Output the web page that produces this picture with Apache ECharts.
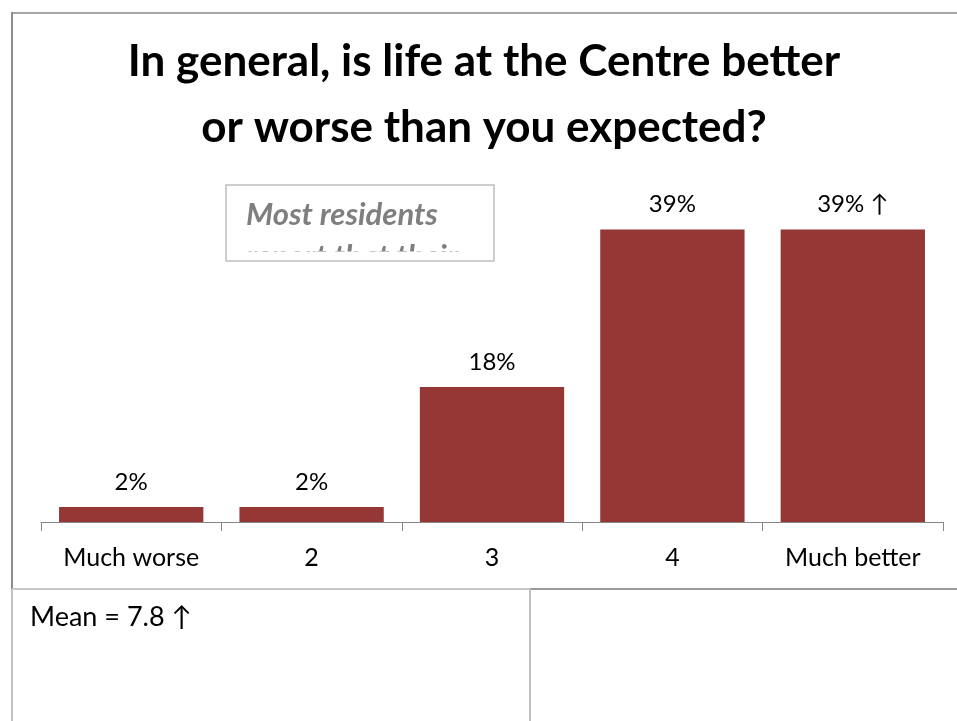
<!DOCTYPE html>
<html>
<head>
<meta charset="utf-8">
<script src="https://cdn.jsdelivr.net/npm/echarts@6/dist/echarts.min.js"></script>
<style>
  html, body { margin: 0; padding: 0; background: #fff; }
  #chart { width: 957px; height: 721px; }
</style>
</head>
<body>
<div id="chart"></div>
<script>
// Survey answers: share of residents per rating
const categories = ['Much worse', '2', '3', '4', 'Much better'];
const shares = [2, 2, 18, 39, 39];
const valueLabels = ['2%', '2%', '18%', '39%', '39% ↑'];
const titleLines = ['In general, is life at the Centre better', 'or worse than you expected?'];
const boxLines = ['Most residents', 'report that their'];
const meanNote = 'Mean = 7.8 ↑';

const FONT = 'Lato, "Noto Sans", sans-serif';
const BAR_COLOR = '#953735';

const chart = echarts.init(document.getElementById('chart'), null, { renderer: 'canvas' });

function line(x1, y1, x2, y2, color, width) {
  return { type: 'line', silent: true, z: 10,
    shape: { x1: x1, y1: y1, x2: x2, y2: y2 },
    style: { stroke: color, lineWidth: width } };
}

chart.setOption({
  animation: false,
  backgroundColor: '#ffffff',
  grid: { left: 41, right: 14, top: 184.5, bottom: 199 },
  xAxis: {
    type: 'category',
    data: categories,
    axisLine: { show: true, lineStyle: { color: '#868686', width: 1 } },
    axisTick: { show: true, inside: false, alignWithLabel: false, interval: 0, length: 9,
      lineStyle: { color: '#868686', width: 1 } },
    axisLabel: { fontFamily: FONT, fontSize: 25, color: '#000', margin: 23 }
  },
  yAxis: { type: 'value', min: 0, max: 45, show: false, splitLine: { show: false } },
  series: [{
    type: 'bar',
    data: shares,
    barCategoryGap: '20%',
    itemStyle: { color: BAR_COLOR },
    label: {
      show: true, position: 'top', distance: 13,
      fontFamily: FONT, fontSize: 24, color: '#000',
      formatter: function (p) { return valueLabels[p.dataIndex]; }
    }
  }],
  graphic: [
    // frame lines
    line(11, 13, 957, 13, '#a6a6a6', 2),
    line(12, 12, 12, 589, '#8c8c8c', 2),
    line(12, 589, 12, 721, '#c0c0c0', 2),
    line(12, 589, 530, 589, '#c8c8c8', 2),
    line(530, 589, 957, 589, '#9a9a9a', 2),
    line(530, 589, 530, 721, '#c0c0c0', 2),
    // title
    { type: 'text', z: 10, x: 484, y: 62,
      style: { text: titleLines[0], font: 'bold 44px ' + FONT, fill: '#000', textAlign: 'center', textVerticalAlign: 'middle' } },
    { type: 'text', z: 10, x: 484, y: 128,
      style: { text: titleLines[1], font: 'bold 44px ' + FONT, fill: '#000', textAlign: 'center', textVerticalAlign: 'middle' } },
    // callout box; its second line is cut off by the box edge
    { type: 'text', z: 20, x: 246, y: 215,
      style: { text: boxLines[0], font: 'italic bold 31px ' + FONT, fill: '#7f7f7f', textAlign: 'left', textVerticalAlign: 'middle' } },
    { type: 'text', z: 20, x: 246, y: 257,
      style: { text: boxLines[1], font: 'italic bold 31px ' + FONT, fill: '#7f7f7f', textAlign: 'left', textVerticalAlign: 'middle' } },
    { type: 'rect', z: 21, silent: true, shape: { x: 227, y: 251.5, width: 266, height: 50 }, style: { fill: '#fff' } },
    { type: 'rect', z: 22, silent: true, shape: { x: 226, y: 185, width: 268, height: 76 }, style: { fill: null, stroke: '#bfbfbf', lineWidth: 1.5 } },
    // mean note
    { type: 'text', z: 10, x: 30, y: 617,
      style: { text: meanNote, font: '27px ' + FONT, fill: '#000', textAlign: 'left', textVerticalAlign: 'middle' } }
  ]
});
</script>
</body>
</html>
